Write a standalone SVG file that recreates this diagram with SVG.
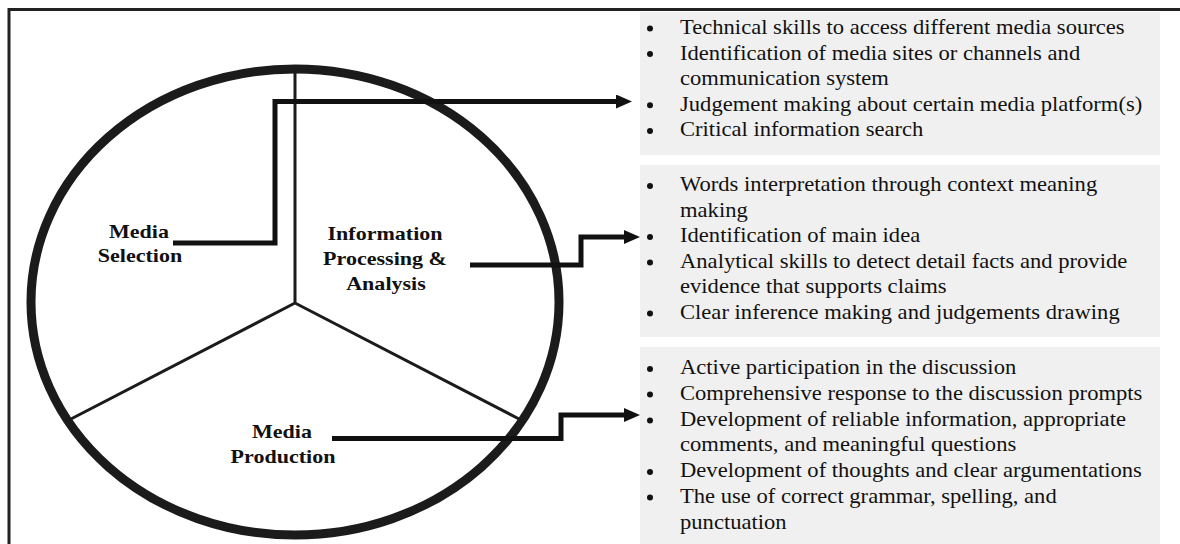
<svg xmlns="http://www.w3.org/2000/svg" width="1180" height="544" viewBox="0 0 1180 544">
<defs>
<style>
.frame{fill:none;stroke:#222;stroke-width:3}
.wheel{fill:none;stroke:#1b1b1b;stroke-width:9}
.div{fill:none;stroke:#1b1b1b;stroke-width:3}
.conn{fill:none;stroke:#111;stroke-width:5;stroke-linejoin:miter}
.box{fill:#f0f0f0}
.lbl{font-family:"Liberation Serif","Times New Roman",serif;font-weight:bold;font-size:19.5px;fill:#111;text-anchor:middle}
.item{font-family:"Liberation Serif","Times New Roman",serif;font-size:20px;fill:#111}
.bul{fill:#111}
</style>
<marker id="arr" markerUnits="userSpaceOnUse" markerWidth="16" markerHeight="14" refX="4" refY="7" orient="auto">
<path d="M0,0 L16,7 L0,14 z" fill="#111"/>
</marker>
</defs>
<rect x="0" y="0" width="1180" height="544" fill="#fff"/>
<rect class="frame" x="9" y="9.5" width="1200" height="600"/>

<g id="wheel">
<ellipse class="wheel" cx="295" cy="302" rx="264" ry="233"/>
<path class="div" d="M295,68 V303 M295,303 L69,420 M295,303 L521,420"/>
</g>

<g id="box-selection">
<rect class="box" x="640" y="12" width="520" height="143"/>
<g class="bul">
<circle cx="650" cy="28.5" r="3"/><circle cx="650" cy="54" r="3"/><circle cx="650" cy="105.3" r="3"/><circle cx="650" cy="131" r="3"/>
</g>
<g class="item" transform="translate(680,0) scale(1.13,1)">
<text x="0" y="34">Technical skills to access different media sources</text>
<text x="0" y="59.6">Identification of media sites or channels and</text>
<text x="0" y="85.2">communication system</text>
<text x="0" y="110.8">Judgement making about certain media platform(s)</text>
<text x="0" y="136.4">Critical information search</text>
</g>
</g>

<g id="box-processing">
<rect class="box" x="640" y="165" width="520" height="172"/>
<g class="bul">
<circle cx="650" cy="186" r="3"/><circle cx="650" cy="237" r="3"/><circle cx="650" cy="262.5" r="3"/><circle cx="650" cy="313.5" r="3"/>
</g>
<g class="item" transform="translate(680,0) scale(1.13,1)">
<text x="0" y="191.5">Words interpretation through context meaning</text>
<text x="0" y="217">making</text>
<text x="0" y="242.5">Identification of main idea</text>
<text x="0" y="268">Analytical skills to detect detail facts and provide</text>
<text x="0" y="293.5">evidence that supports claims</text>
<text x="0" y="319">Clear inference making and judgements drawing</text>
</g>
</g>

<g id="box-production">
<rect class="box" x="640" y="347" width="520" height="200"/>
<g class="bul">
<circle cx="650" cy="369" r="3"/><circle cx="650" cy="394.5" r="3"/><circle cx="650" cy="420.5" r="3"/><circle cx="650" cy="472" r="3"/><circle cx="650" cy="497.5" r="3"/>
</g>
<g class="item" transform="translate(680,0) scale(1.13,1)">
<text x="0" y="374.5">Active participation in the discussion</text>
<text x="0" y="400">Comprehensive response to the discussion prompts</text>
<text x="0" y="426">Development of reliable information, appropriate</text>
<text x="0" y="451.5">comments, and meaningful questions</text>
<text x="0" y="477.5">Development of thoughts and clear argumentations</text>
<text x="0" y="503">The use of correct grammar, spelling, and</text>
<text x="0" y="529">punctuation</text>
</g>
</g>

<g id="label-selection">
<text class="lbl" transform="translate(139,238) scale(1.13,1)">Media</text>
<text class="lbl" transform="translate(140,262) scale(1.13,1)">Selection</text>
</g>
<g id="label-processing">
<text class="lbl" transform="translate(385,240) scale(1.13,1)">Information</text>
<text class="lbl" transform="translate(385,265) scale(1.13,1)">Processing &amp;</text>
<text class="lbl" transform="translate(386,290) scale(1.13,1)">Analysis</text>
</g>
<g id="label-production">
<text class="lbl" transform="translate(282,438) scale(1.13,1)">Media</text>
<text class="lbl" transform="translate(283,463) scale(1.13,1)">Production</text>
</g>

<g id="connectors">
<path class="conn" d="M173,243 H275 V101.5 H620" marker-end="url(#arr)"/>
<path class="conn" d="M470,265 H581 V237 H628" marker-end="url(#arr)"/>
<path class="conn" d="M332,438.5 H561 V415 H628" marker-end="url(#arr)"/>
</g>
</svg>
